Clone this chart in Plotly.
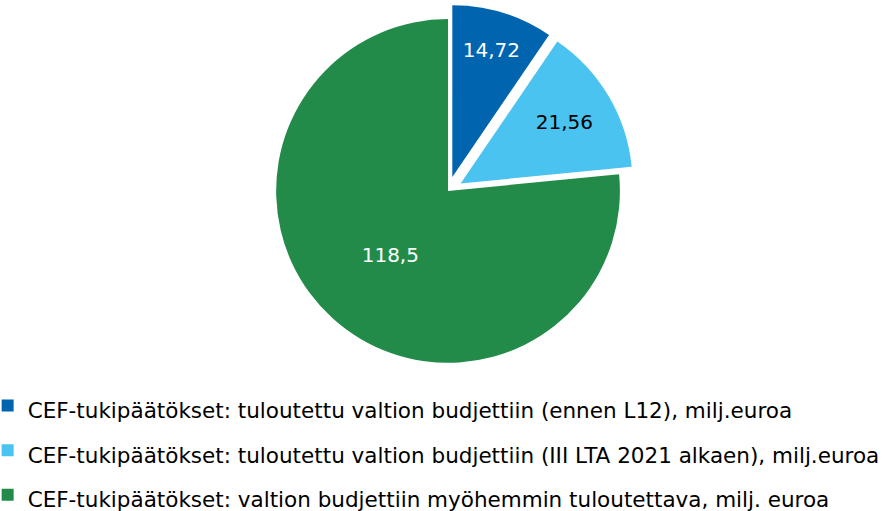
import plotly.graph_objects as go

labels = [
    "CEF-tukipäätökset: tuloutettu valtion budjettiin (ennen L12), milj.euroa",
    "CEF-tukipäätökset: tuloutettu valtion budjettiin (III LTA 2021 alkaen), milj.euroa",
    "CEF-tukipäätökset: valtion budjettiin myöhemmin tuloutettava, milj. euroa",
]
values = [14.72, 21.56, 118.5]
colors = ["#0064AF", "#4BC3F1", "#228B4A"]
text_colors = ["white", "black", "white"]
pulls = [0.085, 0.085, 0.0]

FONT = "DejaVu Sans, Verdana, sans-serif"
LEGEND_TEXT_PX = 21.5

# legend entries: same text, drawn at a smaller size than the legend font so
# that the entries get the wider row spacing of the original
legend_labels = [f"<span style='font-size:{LEGEND_TEXT_PX}px'>{t}</span>" for t in labels]

fig = go.Figure(go.Pie(
    labels=legend_labels,
    values=values,
    sort=False,
    direction="clockwise",
    rotation=0,
    pull=pulls,
    marker=dict(colors=colors, line=dict(width=0)),
    texttemplate="%{value}",
    textposition="inside",
    insidetextorientation="horizontal",
    insidetextfont=dict(family=FONT, size=20, color=text_colors),
    domain=dict(x=[0.2774, 0.7374], y=[0.2613, 0.9912]),
    hovertemplate="%{value}<extra></extra>",
))

fig.update_layout(
    width=883, height=511,
    margin=dict(l=0, r=0, t=0, b=0, autoexpand=False),
    paper_bgcolor="white",
    plot_bgcolor="white",
    separators=", ",
    showlegend=True,
    legend=dict(
        x=-0.014, y=-0.022, xanchor="left", yanchor="bottom",
        orientation="v",
        font=dict(family=FONT, size=32, color="black"),
        bgcolor="rgba(0,0,0,0)",
        traceorder="normal",
    ),
)

fig.write_html("out.html")
